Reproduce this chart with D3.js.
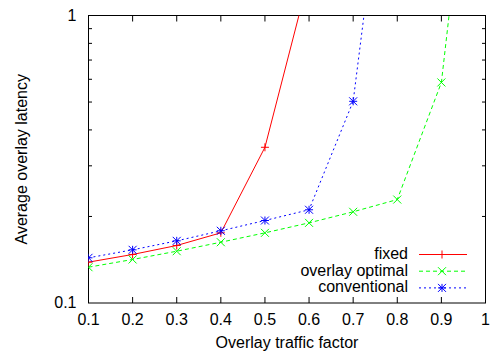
<!DOCTYPE html>
<html>
<head>
<meta charset="utf-8">
<script src="https://cdn.jsdelivr.net/npm/d3@7"></script>
<style>
	body { margin: 0; background: #fff; }
	text { font-family: "Liberation Sans", Arial, sans-serif; font-size: 16px; fill: #000; }
</style>
</head>
<body>
<div id="chart"></div>
<script>
// data
let load = [0.1, 0.2, 0.3, 0.4, 0.5, 0.6, 0.7, 0.8, 0.9, 1.0];
let fixed = [0.1387, 0.1475, 0.1585, 0.1754, 0.348, 1.37];
let overlay_optimal = [0.1332, 0.1417, 0.1514, 0.1627, 0.1754, 0.190, 0.2076, 0.229, 0.585, 12.8];
let conventional = [0.1436, 0.1531, 0.1645, 0.1783, 0.1936, 0.211, 0.503, 8.3];
let x_ticks = [0.1, 0.2, 0.3, 0.4, 0.5, 0.6, 0.7, 0.8, 0.9, 1];
let y_major = [0.1, 1];
let y_minor = [0.2, 0.3, 0.4, 0.5, 0.6, 0.7, 0.8, 0.9];

function chart() {
	let window_w = 494,
		window_h = 360;

	let margin = {top: 15.5, right: 8.5, bottom: 57, left: 88.5},
		width = window_w - (margin.left + margin.right),
		height = window_h - (margin.top + margin.bottom);

	let svg = d3.select("#chart")
		.append("svg")
		.attr("width", window_w)
		.attr("height", window_h);

	let plot = svg.append("g")
		.attr("transform", "translate(" + margin.left + "," + margin.top + ")");

	let x = d3.scaleLinear()
		.domain([0.1, 1])
		.range([0, width]);

	let y = d3.scaleLog()
		.domain([0.1, 1])
		.range([height, 0]);

	svg.append("clipPath")
		.attr("id", "clip")
		.append("rect")
		.attr("width", width)
		.attr("height", height);

	// x ticks bottom and top
	x_ticks.forEach(function (t) {
		plot.append("line")
			.attr("x1", x(t)).attr("x2", x(t))
			.attr("y1", height).attr("y2", height - 6)
			.attr("stroke", "#000");
		plot.append("line")
			.attr("x1", x(t)).attr("x2", x(t))
			.attr("y1", 0).attr("y2", 6)
			.attr("stroke", "#000");
		plot.append("text")
			.attr("x", x(t))
			.attr("y", height + 22)
			.attr("text-anchor", "middle")
			.text(t);
	});

	// y ticks, log scale
	y_minor.forEach(function (t) {
		plot.append("line")
			.attr("x1", 0).attr("x2", 3.5)
			.attr("y1", y(t)).attr("y2", y(t))
			.attr("stroke", "#000");
		plot.append("line")
			.attr("x1", width).attr("x2", width - 3.5)
			.attr("y1", y(t)).attr("y2", y(t))
			.attr("stroke", "#000");
	});
	y_major.forEach(function (t) {
		plot.append("text")
			.attr("x", -12)
			.attr("y", y(t) + 5)
			.attr("text-anchor", "end")
			.text(t);
	});

	// frame
	plot.append("rect")
		.attr("width", width)
		.attr("height", height)
		.attr("fill", "none")
		.attr("stroke", "#000");

	// axis titles
	plot.append("text")
		.attr("x", width / 2)
		.attr("y", height + 45)
		.attr("text-anchor", "middle")
		.text("Overlay traffic factor");

	svg.append("text")
		.attr("transform", "translate(26.5," + (margin.top + height / 2) + ") rotate(-90)")
		.attr("text-anchor", "middle")
		.text("Average overlay latency");

	let series = [
		{name: "fixed", values: fixed, color: "#ff0000", dash: null, mark: "plus"},
		{name: "overlay optimal", values: overlay_optimal, color: "#00ff00", dash: "4,3", mark: "cross"},
		{name: "conventional", values: conventional, color: "#0000ff", dash: "2,3", mark: "star"}
	];

	let line = d3.line()
		.x(function (d) { return x(d[0]); })
		.y(function (d) { return y(d[1]); });

	function marker(g, type, cx, cy, color) {
		let s = 4;
		let segs = [];
		if (type == "plus" || type == "star") {
			segs.push([cx - s, cy, cx + s, cy]);
			segs.push([cx, cy - s, cx, cy + s]);
		}
		if (type == "cross" || type == "star") {
			segs.push([cx - s, cy - s, cx + s, cy + s]);
			segs.push([cx - s, cy + s, cx + s, cy - s]);
		}
		segs.forEach(function (p) {
			g.append("line")
				.attr("x1", p[0]).attr("y1", p[1])
				.attr("x2", p[2]).attr("y2", p[3])
				.attr("stroke", color)
				.attr("stroke-width", 1);
		});
	}

	let lines = plot.append("g").attr("clip-path", "url(#clip)");

	series.forEach(function (s) {
		let pts = s.values.map(function (v, i) { return [load[i], v]; });
		lines.append("path")
			.datum(pts)
			.attr("d", line)
			.attr("fill", "none")
			.attr("stroke", s.color)
			.attr("stroke-width", 1)
			.attr("stroke-dasharray", s.dash);
		pts.forEach(function (p) {
			if (p[1] <= 1) marker(lines, s.mark, x(p[0]), y(p[1]), s.color);
		});
	});

	// legend
	let legend = svg.append("g");
	series.forEach(function (s, i) {
		let ly = 254.5 + i * 16.7;
		legend.append("text")
			.attr("x", 408)
			.attr("y", ly + 4.5)
			.attr("text-anchor", "end")
			.text(s.name);
		legend.append("line")
			.attr("x1", 419).attr("x2", 467)
			.attr("y1", ly).attr("y2", ly)
			.attr("stroke", s.color)
			.attr("stroke-dasharray", s.dash);
		marker(legend, s.mark, 442, ly, s.color);
	});
}

chart();
</script>
</body>
</html>
